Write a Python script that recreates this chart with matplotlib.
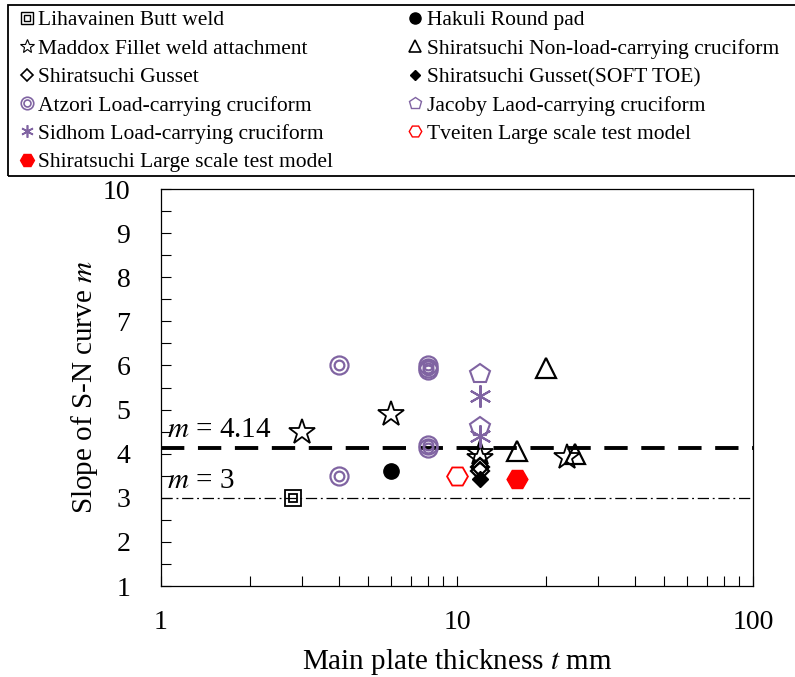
import matplotlib
matplotlib.use("Agg")
import matplotlib.pyplot as plt
from matplotlib.legend_handler import HandlerTuple
from matplotlib.lines import Line2D
from matplotlib.patches import Rectangle

plt.rcParams['font.family'] = ['Liberation Serif', 'DejaVu Serif']
plt.rcParams['mathtext.fontset'] = 'stix'

# data (thickness mm, slope m)
lih_t = [2.8];  lih_m = [3.0]
hak_t = [6];    hak_m = [3.6]
mad_t = [3, 6, 12, 12, 23.5]; mad_m = [4.5, 4.9, 4.02, 3.9, 3.93]
nlc_t = [20, 16, 25]; nlc_m = [5.95, 4.05, 4.0]
gus_t = [12, 12]; gus_m = [3.7, 3.6]
soft_t = [12]; soft_m = [3.43]
atz_t = [4, 4, 8, 8, 8, 8, 8]; atz_m = [6.0, 3.5, 6.0, 5.95, 5.9, 4.2, 4.12]
jac_t = [12, 12]; jac_m = [5.8, 4.6]
sid_t = [12, 12]; sid_m = [5.3, 4.4]
tve_t = [10]; tve_m = [3.5]
lsm_t = [16]; lsm_m = [3.43]
m_dnv = 4.14
m_iiw = 3

purple = '#8064A2'
red = '#FF0000'

W, H = 795, 677
fig = plt.figure(figsize=(W / 100, H / 100), dpi=100)
ax = fig.add_axes([0.2025, 0.1344, 0.7445, 0.5864])

ax.axhline(m_dnv, color='black', lw=2.8, dashes=(6, 3.5), zorder=1)
ax.axhline(m_iiw, color='black', lw=0.9, dashes=(9, 3, 1.5, 3), zorder=1)

# markers
ax.plot(lih_t, lih_m, 's', ms=12, mfc='none', mec='black', mew=1.3)
ax.plot(lih_t, lih_m, 's', ms=6, mfc='none', mec='black', mew=1.3)
ax.plot(hak_t, hak_m, 'o', ms=11, color='black')
ax.plot(mad_t, mad_m, '*', ms=19, mfc='none', mec='black', mew=1.3)
ax.plot(nlc_t, nlc_m, '^', ms=15, mfc='none', mec='black', mew=1.6)
ax.plot(gus_t, gus_m, 'D', ms=9, mfc='none', mec='black', mew=1.6)
ax.plot(soft_t, soft_m, 'D', ms=8, color='black')
ax.plot(atz_t, atz_m, 'o', ms=13, mfc='none', mec=purple, mew=1.6)
ax.plot(atz_t, atz_m, 'o', ms=7, mfc='none', mec=purple, mew=1.6)
ax.plot(jac_t, jac_m, 'p', ms=15, mfc='none', mec=purple, mew=1.5)
ax.plot(sid_t, sid_m, marker=(6, 2, 0), ls='none', ms=16, mec=purple, mew=1.5)
ax.plot(tve_t, tve_m, 'H', ms=15, mfc='none', mec=red, mew=1.3)
ax.plot(lsm_t, lsm_m, 'H', ms=15, color=red)

ax.text(1.05, m_dnv + 0.1, '$m$ = 4.14', fontsize=21, va='bottom', ha='left')
ax.text(1.05, m_iiw + 0.08, '$m$ = 3', fontsize=21, va='bottom', ha='left')

ax.set_xscale('log')
ax.set_xlim(1, 100)
ax.set_ylim(1, 10)
ax.set_yticks(range(1, 11))
ax.set_yticks([i + 0.5 for i in range(1, 10)], minor=True)
ax.set_xticks([1, 10, 100])
ax.set_xticklabels(['1', '10', '100'])
ax.tick_params(which='both', direction='in', labelsize=20, length=7, width=0.8)
ax.tick_params(axis='x', which='both', pad=17)
ax.tick_params(axis='y', which='both', pad=22)
ax.set_xlabel('Main plate thickness $t$ mm', fontsize=21, labelpad=9)
ax.set_ylabel('Slope of S-N curve $m$', fontsize=21, labelpad=2)
for s in ax.spines.values():
    s.set_linewidth(0.9)

# legend
def mk(marker, **kw):
    return Line2D([], [], marker=marker, ls='none', **kw)

h_lih = (mk('s', ms=8, mfc='none', mec='black', mew=1), mk('s', ms=4, mfc='none', mec='black', mew=1))
h_mad = mk('*', ms=10, mfc='none', mec='black', mew=0.8)
h_gus = mk('D', ms=6, mfc='none', mec='black', mew=1.2)
h_atz = (mk('o', ms=9, mfc='none', mec=purple, mew=1.2), mk('o', ms=5, mfc='none', mec=purple, mew=1.2))
h_sid = mk((6, 2, 0), ms=9, mec=purple, mew=1.2)
h_lsm = mk('H', ms=10, color=red)
h_hak = mk('o', ms=8, color='black')
h_nlc = mk('^', ms=9, mfc='none', mec='black', mew=1.2)
h_soft = mk('D', ms=5, color='black')
h_jac = mk('p', ms=9, mfc='none', mec=purple, mew=1)
h_tve = mk('H', ms=9, mfc='none', mec=red, mew=1)

handles = [h_lih, h_mad, h_gus, h_atz, h_sid, h_lsm,
           h_hak, h_nlc, h_soft, h_jac, h_tve]
labels = ['Lihavainen Butt weld', 'Maddox Fillet weld attachment', 'Shiratsuchi Gusset',
          'Atzori Load-carrying cruciform', 'Sidhom Load-carrying cruciform',
          'Shiratsuchi Large scale test model',
          'Hakuli Round pad', 'Shiratsuchi Non-load-carrying cruciform',
          'Shiratsuchi Gusset(SOFT TOE)', 'Jacoby Laod-carrying cruciform',
          'Tveiten Large scale test model']

leg = fig.legend(handles, labels, ncol=2, loc='upper left',
                 bbox_to_anchor=(8 / W, 1 - 5 / H), fontsize=15.5,
                 handler_map={tuple: HandlerTuple(ndivide=1, pad=0)},
                 handlelength=1.25, handletextpad=-0.1, labelspacing=0.385,
                 borderpad=0.25, borderaxespad=0, columnspacing=3.2,
                 frameon=False)

# box round the legend, open to the right edge like the original
fig.add_artist(Rectangle((8 / W, 1 - 176 / H), 1.0, 171 / H, transform=fig.transFigure,
                         fill=False, edgecolor='black', lw=1.3, clip_on=False))

fig.savefig('out.png', dpi=100)
